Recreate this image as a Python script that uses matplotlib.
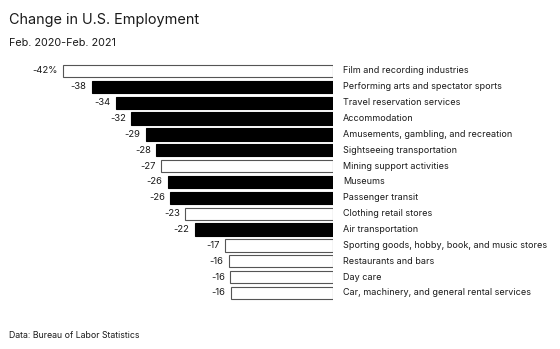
import matplotlib.pyplot as plt

plt.rcParams['font.family'] = ['Inter', 'DejaVu Sans']

# data (percent change, Feb 2020 - Feb 2021)
industries = [
    'Film and recording industries',
    'Performing arts and spectator sports',
    'Travel reservation services',
    'Accommodation',
    'Amusements, gambling, and recreation',
    'Sightseeing transportation',
    'Mining support activities',
    'Museums',
    'Passenger transit',
    'Clothing retail stores',
    'Air transportation',
    'Sporting goods, hobby, book, and music stores',
    'Restaurants and bars',
    'Day care',
    'Car, machinery, and general rental services',
]
change = [-42.0, -37.5, -33.7, -31.4, -29.1, -27.5, -26.7, -25.7, -25.3,
          -23.0, -21.5, -16.8, -16.2, -16.0, -15.9]
value_labels = ['-42%', '-38', '-34', '-32', '-29', '-28', '-27', '-26', '-26',
                '-23', '-22', '-17', '-16', '-16', '-16']
highlight = [False, True, True, True, True, True, False, True, True,
             False, True, False, False, False, False]

txt = '#1a1a1a'

fig = plt.figure(figsize=(5.6, 3.49), dpi=100)
# axes placed so that 0 sits at x=333px and rows run from y=71px to y=293px
ax = fig.add_axes([43.6 / 560, 0.1378, 289.4 / 560, 0.6815])
ax.set_xlim(-45, 0)
ax.set_ylim(len(industries) - 0.5, -0.5)
ax.axis('off')

for i, (name, v, lab, hl) in enumerate(zip(industries, change, value_labels, highlight)):
    ax.barh(i, v, height=0.78, color='black' if hl else 'white',
            edgecolor='black' if hl else '#555555', linewidth=0.8)
    ax.annotate(lab, xy=(v, i), xytext=(-3.8, 0), textcoords='offset points',
                ha='right', va='center', fontsize=6.8, color=txt)
    ax.annotate(name, xy=(0, i), xytext=(7.3, 0), textcoords='offset points',
                ha='left', va='center', fontsize=6.5, color=txt, annotation_clip=False)

fig.text(9 / 560, 1 - 20 / 349, 'Change in U.S. Employment', fontsize=10.4,
         color=txt, va='center', ha='left')
fig.text(9 / 560, 1 - 43 / 349, 'Feb. 2020-Feb. 2021', fontsize=7.8,
         color=txt, va='center', ha='left')
fig.text(9 / 560, 1 - 336 / 349, 'Data: Bureau of Labor Statistics', fontsize=6.3,
         color=txt, va='center', ha='left')

fig.savefig('out.png', dpi=100, facecolor='white')
